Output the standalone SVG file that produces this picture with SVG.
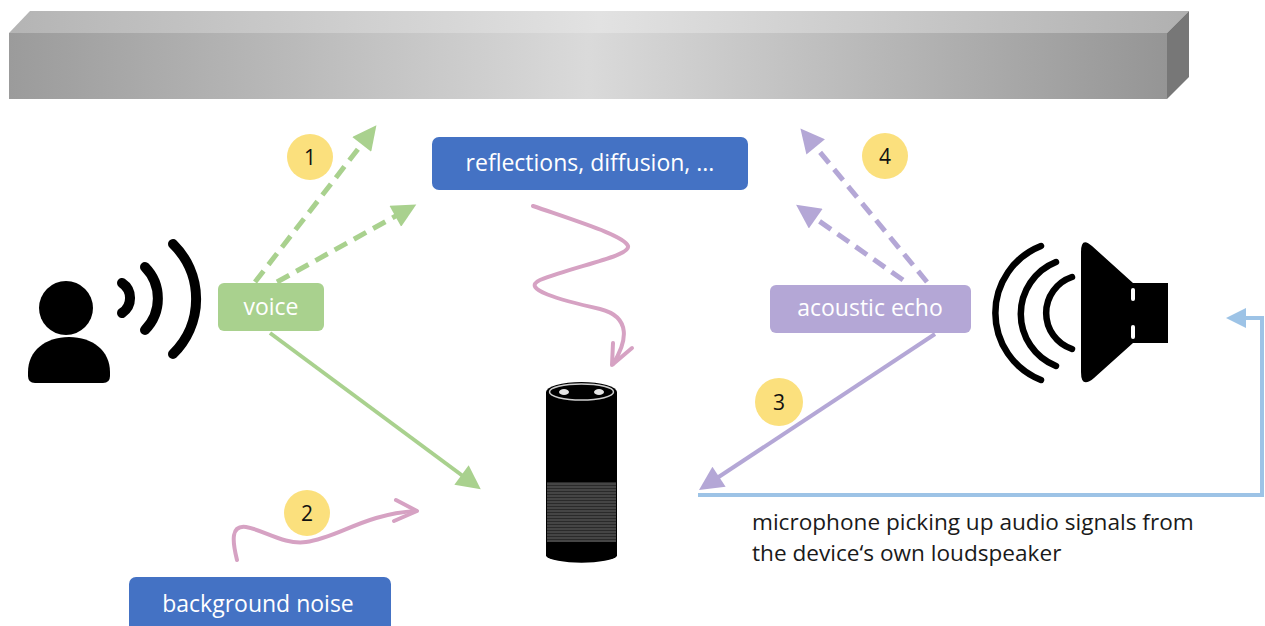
<svg xmlns="http://www.w3.org/2000/svg" width="1265" height="626" viewBox="0 0 1265 626">
  <defs>
    <linearGradient id="barFront" x1="0" y1="0" x2="1" y2="0">
      <stop offset="0" stop-color="#9b9b9b"/>
      <stop offset="0.5" stop-color="#dadada"/>
      <stop offset="1" stop-color="#959595"/>
    </linearGradient>
    <linearGradient id="barTop" x1="0" y1="0" x2="1" y2="0">
      <stop offset="0" stop-color="#b4b4b4"/>
      <stop offset="0.5" stop-color="#e2e2e2"/>
      <stop offset="1" stop-color="#b0b0b0"/>
    </linearGradient>
    <pattern id="grille" width="6" height="3" patternUnits="userSpaceOnUse">
      <rect width="6" height="3" fill="#454545"/>
      <rect y="2" width="6" height="1" fill="#2a2a2a"/>
    </pattern>
    <marker id="headGreen" viewBox="0 0 10 10" refX="7" refY="5" markerWidth="29" markerHeight="24" markerUnits="userSpaceOnUse" orient="auto">
      <path d="M0,0 L10,5 L0,10 z" fill="#a9d18e"/>
    </marker>
    <marker id="headPurple" viewBox="0 0 10 10" refX="7" refY="5" markerWidth="29" markerHeight="24" markerUnits="userSpaceOnUse" orient="auto">
      <path d="M0,0 L10,5 L0,10 z" fill="#b4a7d6"/>
    </marker>
    <marker id="headBlue" viewBox="0 0 10 10" refX="7" refY="5" markerWidth="30" markerHeight="20" markerUnits="userSpaceOnUse" orient="auto">
      <path d="M0,0 L10,5 L0,10 z" fill="#9dc3e6"/>
    </marker>
    <style>
      .label { font-family: "Open Sans", "Noto Sans", sans-serif; font-size: 23px; fill: #ffffff; text-anchor: middle; }
      .num { font-family: "Open Sans", "Noto Sans", sans-serif; font-size: 21px; fill: #111111; text-anchor: middle; }
      .note { font-family: "Open Sans", "Noto Sans", sans-serif; font-size: 22.6px; fill: #1a1a1a; }
      .badge { fill: #fbe07d; }
      .green { stroke: #a9d18e; stroke-width: 4; fill: none; }
      .purple { stroke: #b4a7d6; stroke-width: 4; fill: none; }
      .dash { stroke-width: 5; stroke-dasharray: 14 8; }
      .wave { stroke: #d6a2c3; stroke-width: 4; fill: none; stroke-linecap: round; stroke-linejoin: round; }
      .blue { stroke: #9dc3e6; stroke-width: 4; fill: none; }
      .sound { stroke: #000000; fill: none; stroke-linecap: round; }
    </style>
  </defs>

  <!-- ceiling / wall beam -->
  <g id="wall">
    <polygon points="30,11 1189,11 1167,33 9,33" fill="url(#barTop)"/>
    <polygon points="9,33 1167,33 1167,99 9,99" fill="url(#barFront)"/>
    <polygon points="1167,33 1189,11 1189,77 1167,99" fill="#777777"/>
  </g>

  <!-- connectors -->
  <g id="connectors">
    <path class="green dash" d="M255,282 L372,131" marker-end="url(#headGreen)"/>
    <path class="green dash" d="M277,282 L410,208" marker-end="url(#headGreen)"/>
    <path class="green" d="M270,333 L475,485" marker-end="url(#headGreen)"/>
    <path class="purple dash" d="M927,282 L805,134" marker-end="url(#headPurple)"/>
    <path class="purple dash" d="M903,280 L802,209" marker-end="url(#headPurple)"/>
    <path class="purple" d="M935,334 L705,486" marker-end="url(#headPurple)"/>
    <path class="blue" d="M698,495 L1262,495 L1262,318 L1232,318" marker-end="url(#headBlue)"/>
    <path class="wave" d="M533,206 C585,224 624,236 628,246 C631,256 575,266 540,280 C520,289 560,300 600,309 C632,317 627,342 613,364"/>
    <path class="wave" d="M613,343 L612,365 L632,348"/>
    <path class="wave" d="M237,560 C232,540 231,525 246,527 C264,530 284,545 306,542 C338,538 364,514 416,511"/>
    <path class="wave" d="M396,500 L417,511 L394,521"/>
  </g>

  <!-- speaking person -->
  <g id="person">
    <circle cx="66" cy="308" r="27" fill="#000"/>
    <path d="M28,376 L28,372 C28,351 45,337 69,337 C93,337 110,351 110,372 L110,376 Q110,383 103,383 L35,383 Q28,383 28,376 Z" fill="#000"/>
    <path class="sound" stroke-width="10" d="M122,283 A18,18 0 0 1 122,313"/>
    <path class="sound" stroke-width="10" d="M145,267 A45,45 0 0 1 145,330"/>
    <path class="sound" stroke-width="10" d="M173,244 A77,77 0 0 1 173,354"/>
  </g>

  <g id="voice">
    <rect x="218" y="283" width="106" height="48" rx="6" fill="#a9d18e"/>
    <text class="label" x="271" y="315">voice</text>
  </g>

  <g id="reflections">
    <rect x="432" y="137" width="316" height="53" rx="7" fill="#4472c4"/>
    <text class="label" x="590" y="171">reflections, diffusion, ...</text>
  </g>

  <g id="acoustic-echo">
    <rect x="770" y="285" width="201" height="48" rx="6" fill="#b4a7d6"/>
    <text class="label" x="870" y="316">acoustic echo</text>
  </g>

  <g id="background-noise">
    <rect x="129" y="577" width="262" height="56" rx="7" fill="#4472c4"/>
    <text class="label" x="258" y="612">background noise</text>
  </g>

  <!-- smart speaker device -->
  <g id="device">
    <path d="M546,392 L546,556 A36,8 0 0 0 617,556 L617,392 Z" fill="#000"/>
    <rect x="547" y="482" width="69" height="60" fill="url(#grille)"/>
    <ellipse cx="581.5" cy="392" rx="35.5" ry="10" fill="#000"/>
    <ellipse cx="581.5" cy="392" rx="32" ry="8" fill="none" stroke="#cfcfcf" stroke-width="1.5"/>
    <ellipse cx="564" cy="392" rx="5" ry="3" fill="#e6e6e6"/>
    <ellipse cx="599" cy="392" rx="5" ry="3" fill="#e6e6e6"/>
  </g>

  <!-- loudspeaker -->
  <g id="loudspeaker">
    <path class="sound" stroke-width="6.5" d="M1041,246 A72,72 0 0 0 1041,380"/>
    <path class="sound" stroke-width="6.5" d="M1056,262 A56,56 0 0 0 1056,366"/>
    <path class="sound" stroke-width="6.5" d="M1072,277 A38,38 0 0 0 1072,349"/>
    <path d="M1092,246 L1133,283 L1168,283 L1168,343 L1133,343 L1094,378 Q1081,389 1081,372 L1081,252 Q1081,236 1092,246 Z" fill="#000"/>
    <rect x="1131" y="288" width="4" height="13" rx="2" fill="#fff"/>
    <rect x="1131" y="325" width="4" height="14" rx="2" fill="#fff"/>
  </g>

  <!-- step badges -->
  <g id="badge-1"><circle class="badge" cx="310" cy="157" r="23"/><text class="num" x="310" y="165">1</text></g>
  <g id="badge-2"><circle class="badge" cx="307" cy="513" r="23"/><text class="num" x="307" y="521">2</text></g>
  <g id="badge-3"><circle class="badge" cx="779" cy="402" r="24"/><text class="num" x="779" y="410">3</text></g>
  <g id="badge-4"><circle class="badge" cx="885" cy="156" r="23"/><text class="num" x="885" y="164">4</text></g>

  <g id="note">
    <text class="note" x="752" y="530">microphone picking up audio signals from</text>
    <text class="note" x="752" y="561">the device‘s own loudspeaker</text>
  </g>
</svg>
